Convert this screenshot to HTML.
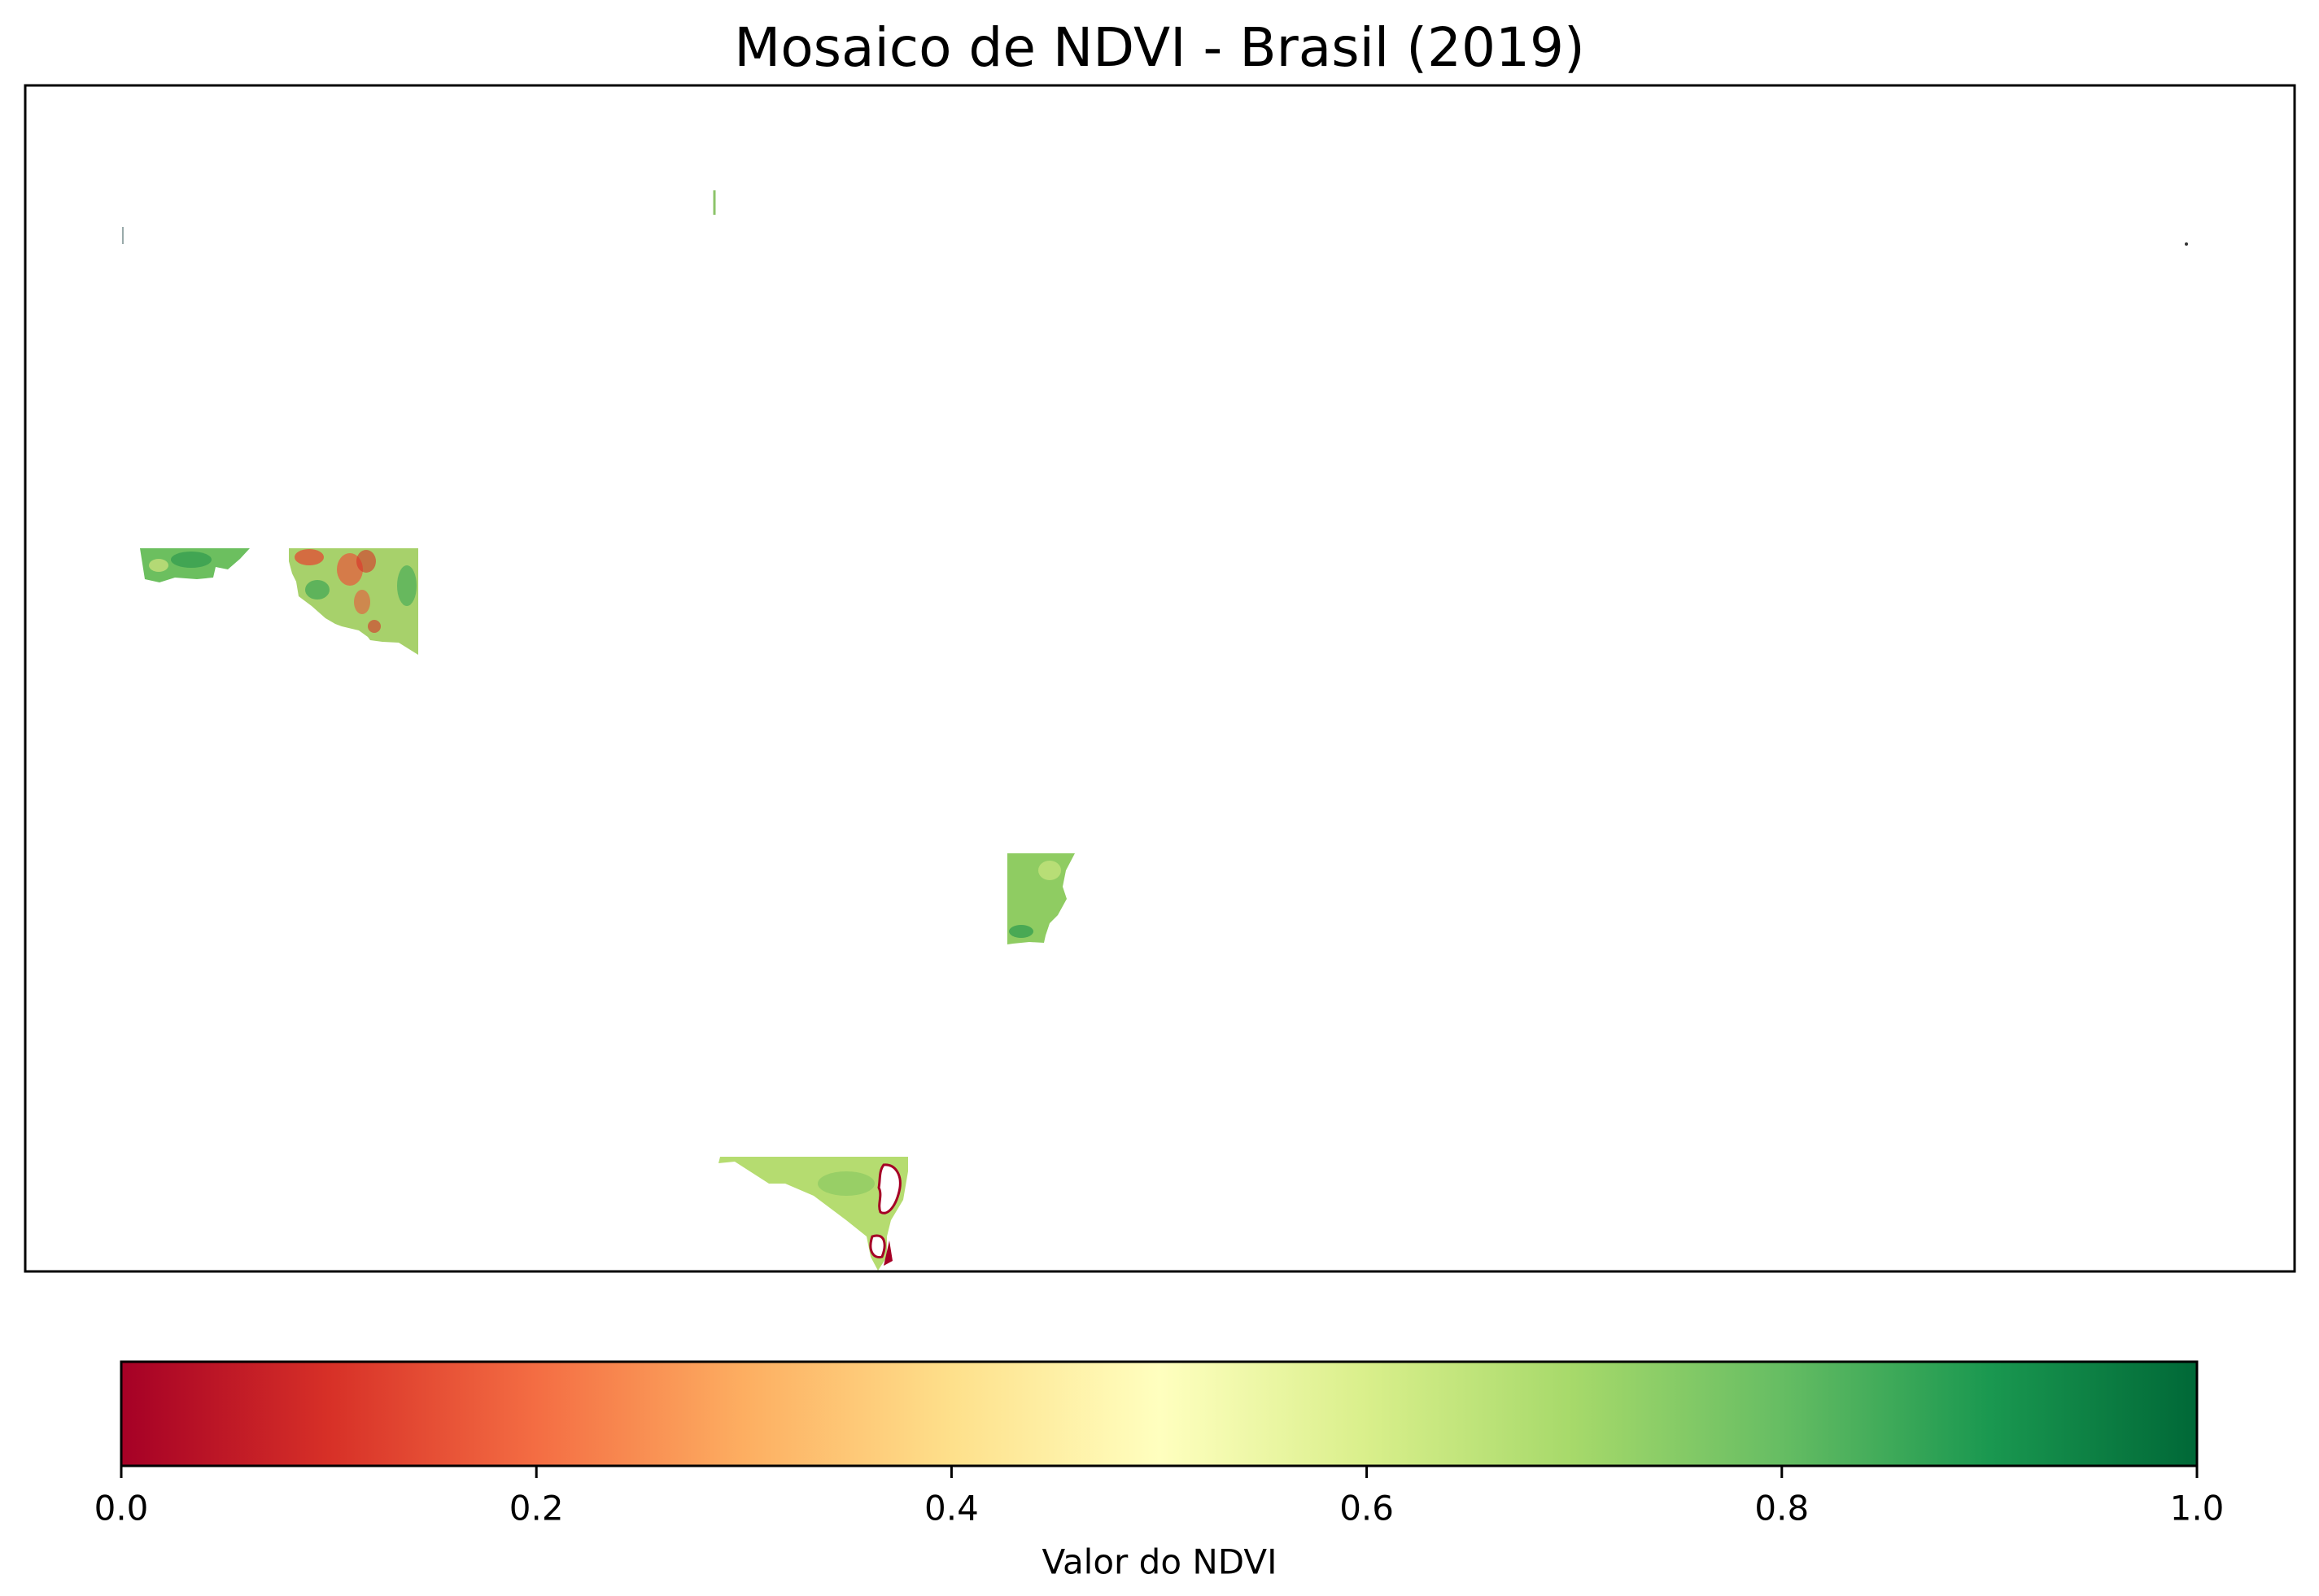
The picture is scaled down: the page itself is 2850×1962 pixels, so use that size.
<!DOCTYPE html>
<html><head><meta charset="utf-8">
<style>
html,body{margin:0;padding:0;background:#fff;}
body{width:2850px;height:1957px;overflow:hidden;font-family:"Liberation Sans","DejaVu Sans",sans-serif;}
svg text{font-family:"DejaVu Sans","Liberation Sans",sans-serif;}
</style></head>
<body>
<svg id="fig" width="2850" height="1957" viewBox="0 0 2850 1957" xmlns="http://www.w3.org/2000/svg">
<defs>
<linearGradient id="rdylgn" x1="0" x2="1" y1="0" y2="0">
<stop offset="0" stop-color="#a50026"/><stop offset="0.1" stop-color="#d73027"/>
<stop offset="0.2" stop-color="#f46d43"/><stop offset="0.3" stop-color="#fdae61"/>
<stop offset="0.4" stop-color="#fee08b"/><stop offset="0.5" stop-color="#ffffbf"/>
<stop offset="0.6" stop-color="#d9ef8b"/><stop offset="0.7" stop-color="#a6d96a"/>
<stop offset="0.8" stop-color="#66bd63"/><stop offset="0.9" stop-color="#1a9850"/>
<stop offset="1" stop-color="#006837"/>
</linearGradient>
</defs>
<text x="1425" y="81" text-anchor="middle" font-size="66" fill="#000">Mosaico de NDVI - Brasil (2019)</text>

<g>
<rect x="31" y="105" width="2789" height="1458" fill="#fff" stroke="none"/>
<line x1="151" y1="279" x2="151" y2="300" stroke="#9aa" stroke-width="2"/>
<line x1="878" y1="234" x2="878" y2="264" stroke="#8cc46a" stroke-width="3"/>
<circle cx="2687" cy="300" r="2" fill="#333"/>

<g>
<polygon points="172,674 307,674 295,687 280,700 265,697 262,710 242,712 215,710 196,716 178,712" fill="#6cbf5f"/>
<ellipse cx="235" cy="688" rx="25" ry="10" fill="#2f9a4f" opacity="0.7"/>
<ellipse cx="195" cy="695" rx="12" ry="8" fill="#c7e07a" opacity="0.8"/>
</g>
<g>
<polygon points="355,674 514,674 514,805 490,790 470,789 455,787 452,783 441,775 420,770 412,767 400,760 383,745 367,733 364,715 359,705 355,690" fill="#a7d16b"/>
<ellipse cx="380" cy="685" rx="18" ry="10" fill="#e34a33" opacity="0.75"/>
<ellipse cx="430" cy="700" rx="16" ry="20" fill="#e8573a" opacity="0.7"/>
<ellipse cx="450" cy="690" rx="12" ry="14" fill="#d73027" opacity="0.6"/>
<ellipse cx="445" cy="740" rx="10" ry="15" fill="#e8573a" opacity="0.6"/>
<ellipse cx="460" cy="770" rx="8" ry="8" fill="#d73027" opacity="0.6"/>
<ellipse cx="390" cy="725" rx="15" ry="12" fill="#3ea654" opacity="0.7"/>
<ellipse cx="500" cy="720" rx="12" ry="25" fill="#4cae59" opacity="0.7"/>
</g>
<g>
<polygon points="1238,1049 1321,1049 1310,1070 1306,1090 1311,1105 1300,1125 1290,1135 1285,1150 1283,1159 1265,1158 1245,1160 1238,1161" fill="#8fcc62"/>
<ellipse cx="1255" cy="1145" rx="15" ry="8" fill="#2b9a4e" opacity="0.7"/>
<ellipse cx="1290" cy="1070" rx="14" ry="12" fill="#c9e67f" opacity="0.7"/>
</g>
<g>
<polygon points="885,1422 1116,1422 1116,1440 1110,1475 1095,1500 1090,1520 1090,1545 1079,1562 1070,1545 1065,1520 1040,1500 1020,1485 1000,1470 965,1455 945,1455 903,1428 883,1430" fill="#b5dc70"/>
<ellipse cx="1040" cy="1455" rx="35" ry="15" fill="#8cc962" opacity="0.7"/>
<path d="M1086,1432 C1100,1430 1110,1445 1105,1465 C1100,1485 1090,1495 1082,1490 C1078,1480 1085,1470 1080,1460 C1082,1450 1080,1440 1086,1432 Z" fill="#fff" stroke="#a50026" stroke-width="3"/>
<path d="M1072,1520 C1088,1515 1090,1530 1084,1545 C1074,1548 1066,1538 1072,1520 Z" fill="#fff" stroke="#a50026" stroke-width="3"/>
<path d="M1093,1525 L1097,1550 L1086,1556 Z" fill="#a50026"/>
</g>
<rect x="31" y="105" width="2789" height="1458" fill="none" stroke="#000" stroke-width="3"/>
</g>

<g id="cbar"></g>
<text x="1425" y="1923" text-anchor="middle" dominant-baseline="middle" font-size="42" fill="#000">Valor do NDVI</text>
</svg>
<script>
const tickValues = [0.0, 0.2, 0.4, 0.6, 0.8, 1.0];
const tickLabels = ["0.0", "0.2", "0.4", "0.6", "0.8", "1.0"];
const colorRange = [0, 1];

(function(){
  const NS = "http://www.w3.org/2000/svg";
  const g = document.getElementById('cbar');
  const x0 = 149, x1 = 2700, y0 = 1674, y1 = 1802;
  const sx = v => x0 + (v - colorRange[0]) / (colorRange[1] - colorRange[0]) * (x1 - x0);
  const r = document.createElementNS(NS, 'rect');
  r.setAttribute('x', x0); r.setAttribute('y', y0);
  r.setAttribute('width', x1 - x0); r.setAttribute('height', y1 - y0);
  r.setAttribute('fill', 'url(#rdylgn)');
  r.setAttribute('stroke', '#000'); r.setAttribute('stroke-width', '3');
  
  
  g.appendChild(r);
  tickValues.forEach((v, i) => {
    const x = sx(v);
    const t = document.createElementNS(NS, 'line');
    t.setAttribute('x1', x); t.setAttribute('x2', x);
    t.setAttribute('y1', y1); t.setAttribute('y2', y1 + 15);
    t.setAttribute('stroke', '#000'); t.setAttribute('stroke-width', '3');
    
    
    g.appendChild(t);
    const tx = document.createElementNS(NS, 'text');
    tx.setAttribute('x', x); tx.setAttribute('y', 1857);
    tx.setAttribute('text-anchor', 'middle');
    tx.setAttribute('dominant-baseline', 'middle');
    tx.setAttribute('font-size', '42');
    tx.textContent = tickLabels[i];
    
    
    g.appendChild(tx);
  });
})();
</script>
</body></html>
